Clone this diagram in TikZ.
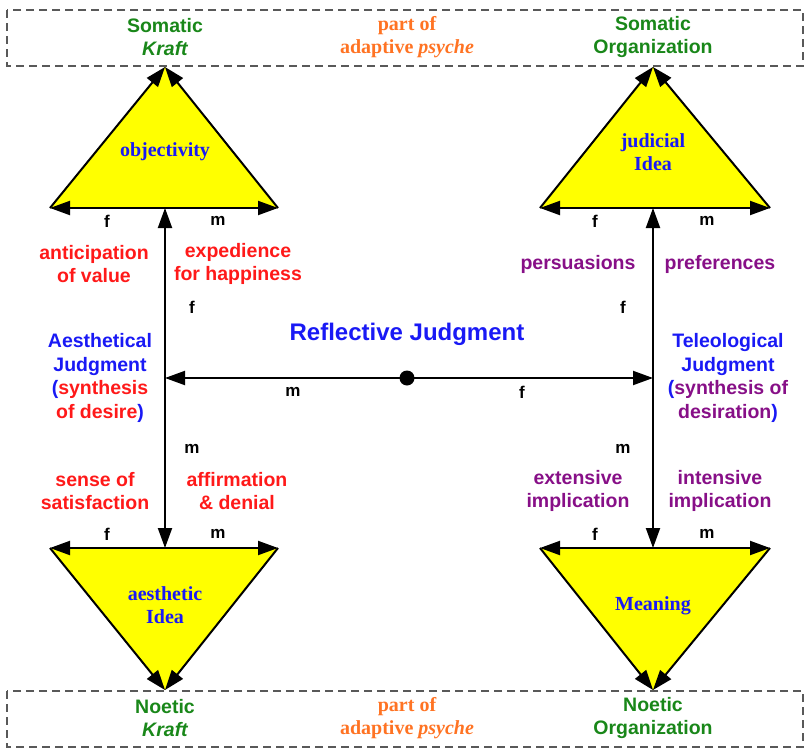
\documentclass[tikz,border=0pt]{standalone}
\usepackage{fontspec}
\setmainfont{Liberation Sans}
\newfontfamily\serifb{Liberation Serif}
\usetikzlibrary{arrows.meta}
\definecolor{cgreen}{RGB}{25,135,25}
\definecolor{corange}{RGB}{255,115,35}
\definecolor{cred}{RGB}{255,25,25}
\definecolor{cblue}{RGB}{25,25,245}
\definecolor{cpurple}{RGB}{135,15,135}
\definecolor{cyel}{RGB}{255,255,0}
\begin{document}
\begin{tikzpicture}[x=1pt,y=-1pt,
  lbl/.style={font=\fontsize{19.5}{23.5}\selectfont\bfseries, align=center, inner sep=0pt},
  serlbl/.style={font=\fontsize{20}{23}\selectfont\serifb\bfseries, align=center, inner sep=0pt},
  fm/.style={font=\fontsize{17}{20}\selectfont\bfseries, inner sep=0pt},
  arr/.style={line width=2pt, -{Triangle[length=20pt,width=14pt]}},
  dbox/.style={draw=black!65, line width=1.4pt, dash pattern=on 8pt off 5pt},
  tri/.style={fill=cyel}]
\useasboundingbox (0,0) rectangle (807,755);

% dashed boxes
\draw[dbox] (7,10) rectangle (803,66);
\draw[dbox] (7,691) rectangle (803,747);

% vertices
\coordinate (TLa) at (165,67);  \coordinate (TLl) at (50,208);  \coordinate (TLr) at (278,208); \coordinate (TLm) at (165,208);
\coordinate (TRa) at (653,67);  \coordinate (TRl) at (540,208); \coordinate (TRr) at (770,208); \coordinate (TRm) at (653,208);
\coordinate (BLa) at (165,690); \coordinate (BLl) at (50,548);  \coordinate (BLr) at (278,548); \coordinate (BLm) at (165,548);
\coordinate (BRa) at (653,690); \coordinate (BRl) at (540,548); \coordinate (BRr) at (770,548); \coordinate (BRm) at (653,548);
\coordinate (CL) at (165,378); \coordinate (CR) at (653,378);
\node[circle, fill=black, inner sep=0pt, minimum size=15pt] (dot) at (407,378) {};

% triangles
\fill[tri] (TLa)--(TLl)--(TLr)--cycle;
\fill[tri] (TRa)--(TRl)--(TRr)--cycle;
\fill[tri] (BLa)--(BLl)--(BLr)--cycle;
\fill[tri] (BRa)--(BRl)--(BRr)--cycle;

\foreach \p in {TL,TR,BL,BR}{
  \draw[arr] (\p m) -- (\p l);
  \draw[arr] (\p m) -- (\p r);
  \draw[arr] (\p l) -- (\p a);
  \draw[arr] (\p r) -- (\p a);
}
% verticals
\draw[arr] (CL) -- (TLm);
\draw[arr] (CL) -- (BLm);
\draw[arr] (CR) -- (TRm);
\draw[arr] (CR) -- (BRm);
% horizontal
\draw[arr] (dot.center) -- (CL);
\draw[arr] (dot.center) -- (CR);

% box texts
\node[lbl, text=cgreen] (sk) at (165,37) {Somatic\\\itshape Kraft};
\node[serlbl, text=corange] (po1) at (407,37) {part of\\adaptive \itshape psyche};
\node[lbl, text=cgreen] (so) at (653,37) {Somatic\\Organization};
\node[lbl, text=cgreen] (nk) at (165,718) {Noetic\\\itshape Kraft};
\node[serlbl, text=corange] (po2) at (407,718) {part of\\adaptive \itshape psyche};
\node[lbl, text=cgreen] (no) at (653,718) {Noetic\\Organization};

% triangle texts
\node[serlbl, text=cblue] (obj) at (165,152) {objectivity};
\node[serlbl, text=cblue] (jud) at (653,152) {judicial\\Idea};
\node[serlbl, text=cblue] (aes) at (165,605) {aesthetic\\Idea};
\node[serlbl, text=cblue] (mea) at (653,606) {Meaning};

% f/m labels
\node[fm] (f1) at (107,221) {f};
\node[fm] (m1) at (218,221) {m};
\node[fm] (f2) at (595,221) {f};
\node[fm] (m2) at (707,221) {m};
\node[fm] (f3) at (107,534) {f};
\node[fm] (m3) at (218,534) {m};
\node[fm] (f4) at (595,534) {f};
\node[fm] (m4) at (707,534) {m};
\node[fm] (f5) at (192,307) {f};
\node[fm] (m5) at (192,449) {m};
\node[fm] (f6) at (623,307) {f};
\node[fm] (m6) at (623,449) {m};
\node[fm] (m7) at (293,392) {m};
\node[fm] (f7) at (522,392) {f};

% middle
\node[lbl, text=cblue, font=\fontsize{24}{28}\selectfont\bfseries] (rj) at (407,334) {Reflective Judgment};

% left column
\node[lbl, text=cred] (ant) at (94,264) {anticipation\\of value};
\node[lbl, text=cred] (exp) at (238,264) {expedience\\for happiness};
\node[lbl] (aj) at (100,378) {\textcolor{cblue}{Aesthetical}\\\textcolor{cblue}{Judgment}\\\textcolor{cblue}{(}\textcolor{cred}{synthesis}\\\textcolor{cred}{of desire}\textcolor{cblue}{)}};
\node[lbl, text=cred] (sos) at (95,491) {sense of\\satisfaction};
\node[lbl, text=cred] (aff) at (237,491) {affirmation\\\& denial};

% right column
\node[lbl, text=cpurple] (per) at (578,264) {persuasions};
\node[lbl, text=cpurple] (pre) at (720,264) {preferences};
\node[lbl] (tj) at (728,378) {\textcolor{cblue}{Teleological}\\\textcolor{cblue}{Judgment}\\\textcolor{cblue}{(}\textcolor{cpurple}{synthesis of}\\\textcolor{cpurple}{desiration}\textcolor{cblue}{)}};
\node[lbl, text=cpurple] (ext) at (578,491) {extensive\\implication};
\node[lbl, text=cpurple] (int) at (720,491) {intensive\\implication};
\end{tikzpicture}
\end{document}
